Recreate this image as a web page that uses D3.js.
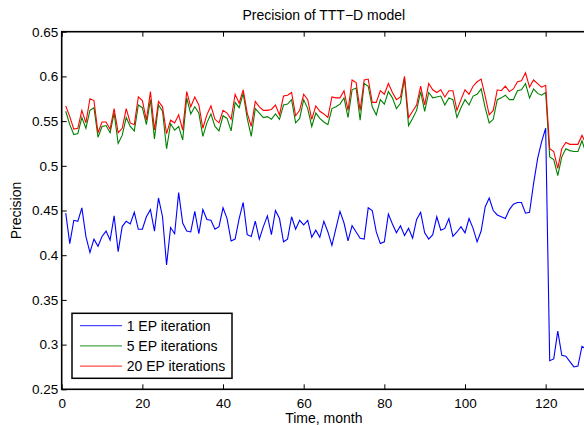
<!DOCTYPE html>
<html>
<head>
<meta charset="utf-8">
<script src="https://cdnjs.cloudflare.com/ajax/libs/d3/7.8.5/d3.min.js"></script>
<style>
  body { margin: 0; background: #fff; }
  svg { font-family: 'Liberation Sans', Arial, Helvetica, sans-serif; }
</style>
</head>
<body>
<svg id="chart" width="584" height="425"></svg>
<script>
// values, one per month (1..130)
var months = d3.range(1, 131);

var ep1 = [
  0.447, 0.413, 0.439, 0.438, 0.453, 0.421, 0.403, 0.418, 0.410, 0.421,
  0.427, 0.417, 0.444, 0.404, 0.432, 0.438, 0.435, 0.448, 0.429, 0.429,
  0.443, 0.451, 0.427, 0.464, 0.443, 0.389, 0.431, 0.424, 0.470, 0.436,
  0.427, 0.426, 0.449, 0.424, 0.451, 0.440, 0.439, 0.429, 0.432, 0.453,
  0.441, 0.416, 0.418, 0.441, 0.459, 0.423, 0.421, 0.438, 0.418, 0.432,
  0.444, 0.423, 0.450, 0.441, 0.415, 0.418, 0.443, 0.429, 0.439, 0.434,
  0.439, 0.420, 0.428, 0.420, 0.438, 0.426, 0.411, 0.430, 0.449, 0.436,
  0.416, 0.433, 0.426, 0.419, 0.418, 0.453, 0.450, 0.426, 0.413, 0.415,
  0.446, 0.435, 0.425, 0.433, 0.422, 0.430, 0.419, 0.440, 0.448, 0.425,
  0.418, 0.423, 0.443, 0.428, 0.430, 0.441, 0.421, 0.426, 0.432, 0.425,
  0.441, 0.430, 0.415, 0.427, 0.454, 0.464, 0.450, 0.445, 0.443, 0.441,
  0.451, 0.457, 0.459, 0.459, 0.447, 0.448, 0.480, 0.508, 0.527, 0.542,
  0.282, 0.284, 0.315, 0.288, 0.287, 0.281, 0.275, 0.276, 0.298, 0.295
];

var ep5 = [
  0.561, 0.546, 0.535, 0.536, 0.554, 0.542, 0.562, 0.565, 0.532, 0.544,
  0.545, 0.537, 0.559, 0.525, 0.534, 0.554, 0.544, 0.539, 0.568, 0.565,
  0.546, 0.574, 0.530, 0.568, 0.561, 0.519, 0.547, 0.540, 0.544, 0.529,
  0.576, 0.558, 0.566, 0.559, 0.533, 0.548, 0.558, 0.544, 0.539, 0.556,
  0.553, 0.539, 0.571, 0.565, 0.581, 0.553, 0.533, 0.564, 0.559, 0.554,
  0.555, 0.552, 0.558, 0.552, 0.568, 0.569, 0.574, 0.548, 0.553, 0.574,
  0.564, 0.544, 0.559, 0.553, 0.549, 0.546, 0.564, 0.566, 0.569, 0.576,
  0.554, 0.585, 0.587, 0.551, 0.592, 0.589, 0.566, 0.557, 0.574, 0.569,
  0.583, 0.576, 0.564, 0.570, 0.598, 0.545, 0.553, 0.562, 0.583, 0.561,
  0.582, 0.576, 0.577, 0.578, 0.568, 0.576, 0.574, 0.554, 0.565, 0.574,
  0.568, 0.578, 0.580, 0.586, 0.565, 0.548, 0.552, 0.574, 0.576, 0.579,
  0.574, 0.574, 0.584, 0.585, 0.592, 0.576, 0.586, 0.581, 0.579, 0.582,
  0.510, 0.507, 0.489, 0.510, 0.519, 0.517, 0.516, 0.516, 0.528, 0.514
];

var ep20 = [
  0.567, 0.555, 0.541, 0.542, 0.562, 0.548, 0.575, 0.573, 0.537, 0.549,
  0.549, 0.541, 0.564, 0.537, 0.542, 0.564, 0.548, 0.546, 0.577, 0.573,
  0.551, 0.583, 0.540, 0.572, 0.566, 0.536, 0.551, 0.548, 0.557, 0.540,
  0.583, 0.566, 0.577, 0.568, 0.542, 0.557, 0.567, 0.552, 0.548, 0.562,
  0.559, 0.552, 0.580, 0.570, 0.585, 0.559, 0.544, 0.572, 0.566, 0.562,
  0.562, 0.563, 0.568, 0.557, 0.578, 0.579, 0.582, 0.556, 0.562, 0.580,
  0.574, 0.552, 0.567, 0.561, 0.558, 0.554, 0.577, 0.576, 0.576, 0.584,
  0.562, 0.596, 0.593, 0.562, 0.596, 0.597, 0.571, 0.571, 0.584, 0.580,
  0.592, 0.582, 0.574, 0.577, 0.600, 0.554, 0.561, 0.568, 0.589, 0.568,
  0.592, 0.585, 0.582, 0.585, 0.577, 0.584, 0.584, 0.562, 0.574, 0.585,
  0.580, 0.589, 0.594, 0.597, 0.578, 0.557, 0.562, 0.585, 0.584, 0.589,
  0.583, 0.586, 0.594, 0.595, 0.604, 0.588, 0.596, 0.592, 0.588, 0.590,
  0.519, 0.516, 0.497, 0.519, 0.526, 0.524, 0.524, 0.524, 0.534, 0.525
];

var seriesNames = ['1 EP iteration', '5 EP iterations', '20 EP iterations'];
var seriesColors = ['#0000ff', '#008000', '#ff0000'];
var xTicks = [0, 20, 40, 60, 80, 100, 120];
var yTicks = [0.25, 0.3, 0.35, 0.4, 0.45, 0.5, 0.55, 0.6, 0.65];

var svg = d3.select('#chart');

// plot box (right edge falls just outside the picture, as in the original)
var box = { left: 61.7, right: 586, top: 31.7, bottom: 389.3 };

var x = d3.scaleLinear().domain([0, 130]).range([box.left, box.right]);
var y = d3.scaleLinear().domain([0.25, 0.65]).range([box.bottom, box.top]);

var series = [ep1, ep5, ep20].map(function(vals, i) {
  return { name: seriesNames[i], color: seriesColors[i], values: vals };
});

var line = d3.line()
  .x(function(d, i) { return x(months[i]); })
  .y(function(d) { return y(d); });

svg.selectAll('path.series')
  .data(series)
  .enter()
  .append('path')
  .attr('class', 'series')
  .attr('d', function(d) { return line(d.values); })
  .attr('fill', 'none')
  .attr('stroke', function(d) { return d.color; })
  .attr('stroke-width', 1.1);

// axes, ticks point inward like matlab
var xAxis = d3.axisBottom(x).tickValues(xTicks).tickSizeInner(-5).tickSizeOuter(0).tickPadding(9.5);
var yAxis = d3.axisLeft(y).tickValues(yTicks).tickSizeInner(-5).tickSizeOuter(0).tickPadding(3.5)
  .tickFormat(d3.format('.2~f'));
var xTop = d3.axisTop(x).tickValues(xTicks).tickSizeInner(-5).tickSizeOuter(0).tickFormat('');

function styleAxis(g) {
  g.select('.domain').remove();
  g.selectAll('line').attr('stroke', '#000').attr('stroke-width', 1);
  g.selectAll('text').attr('fill', '#000').style('font-size', '13.5px');
}

svg.append('g').attr('transform', 'translate(0,' + box.bottom + ')').call(xAxis).call(styleAxis);
svg.append('g').attr('transform', 'translate(' + box.left + ',0)').call(yAxis).call(styleAxis);
svg.append('g').attr('transform', 'translate(0,' + box.top + ')').call(xTop).call(styleAxis);

svg.append('rect')
  .attr('x', box.left).attr('y', box.top)
  .attr('width', box.right - box.left).attr('height', box.bottom - box.top)
  .attr('fill', 'none')
  .attr('stroke', '#000')
  .attr('stroke-width', 1.6);

svg.append('text')
  .attr('x', (box.left + box.right) / 2)
  .attr('y', 19.5)
  .attr('text-anchor', 'middle')
  .style('font-size', '14px')
  .text('Precision of TTT\u2212D model');

svg.append('text')
  .attr('x', (box.left + box.right) / 2)
  .attr('y', 422.5)
  .attr('text-anchor', 'middle')
  .style('font-size', '14px')
  .text('Time, month');

svg.append('text')
  .attr('transform', 'translate(20.5,' + (box.top + box.bottom) / 2 + ') rotate(-90)')
  .attr('text-anchor', 'middle')
  .style('font-size', '14px')
  .text('Precision');

// legend
var legend = svg.append('g').attr('transform', 'translate(72,313.3)');

legend.append('rect')
  .attr('width', 160).attr('height', 65)
  .attr('fill', '#fff')
  .attr('stroke', '#000')
  .attr('stroke-width', 1.5);

var items = legend.selectAll('g.item')
  .data(series)
  .enter()
  .append('g')
  .attr('class', 'item')
  .attr('transform', function(d, i) { return 'translate(0,' + (12.4 + i * 20.2) + ')'; });

items.append('line')
  .attr('x1', 8).attr('x2', 50)
  .attr('stroke', function(d) { return d.color; })
  .attr('stroke-opacity', 0.7)
  .attr('stroke-width', 1.2);

items.append('text')
  .attr('x', 54.7)
  .attr('dy', '0.35em')
  .style('font-size', '14px')
  .text(function(d) { return d.name; });
</script>
</body>
</html>
